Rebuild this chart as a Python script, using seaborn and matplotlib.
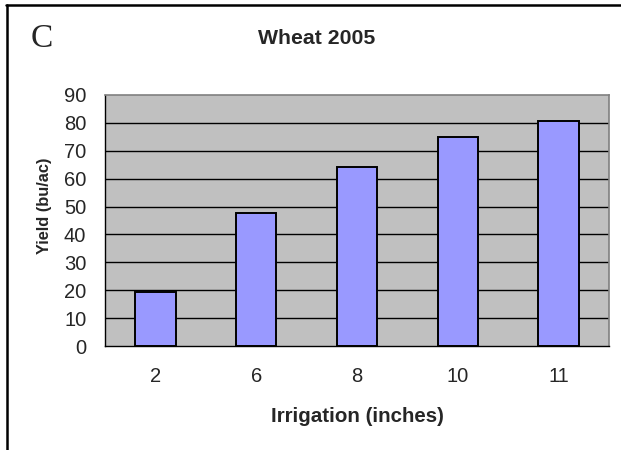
import matplotlib
matplotlib.use("Agg")
import matplotlib.pyplot as plt
from matplotlib.lines import Line2D
import seaborn as sns
import pandas as pd

# Irrigation treatment vs. wheat yield, 2005
irrigation = ["2", "6", "8", "10", "11"]
yield_bu_ac = [19.5, 47.6, 64.1, 75.0, 80.8]
y_ticks = [0, 10, 20, 30, 40, 50, 60, 70, 80, 90]

df = pd.DataFrame({"Irrigation": irrigation, "Yield": yield_bu_ac})

sns.set_style("white")
plt.rcParams["font.family"] = ["Liberation Sans", "DejaVu Sans"]

W, H = 621, 450
fig = plt.figure(figsize=(W / 100, H / 100), dpi=100)
fig.patch.set_facecolor("white")

# plot area in pixel coordinates
left, right, top, bottom = 105, 609, 95, 346
ax = fig.add_axes([left / W, 1 - bottom / H, (right - left) / W, (bottom - top) / H])
ax.set_facecolor("#C0C0C0")

for v in y_ticks[1:-1]:
    ax.axhline(v, color="black", lw=1.0, zorder=0.5)

sns.barplot(data=df, x="Irrigation", y="Yield", color="#9999FF",
            saturation=1, width=0.40, edgecolor="black", linewidth=1.4,
            ax=ax, zorder=2)

ax.set_ylim(0, 90)
ax.set_xlim(-0.5, len(irrigation) - 0.5)
ax.set_yticks(y_ticks)
ax.set_yticklabels([str(t) for t in y_ticks], fontsize=14.5)
ax.tick_params(axis="y", direction="out", length=7, width=1, color="black", pad=6.5)

# category ticks sit on the boundaries between bars
ax.set_xticks([i - 0.5 for i in range(len(irrigation) + 1)])
ax.set_xticklabels([])
ax.set_xticks(range(len(irrigation)), minor=True)
ax.set_xticklabels(irrigation, minor=True, fontsize=14.5)
ax.tick_params(axis="x", which="major", direction="out", length=6, width=1, color="black")
ax.tick_params(axis="x", which="minor", length=0, pad=15)

ax.set_xlabel("")
ax.set_ylabel("")

for side in ["left", "bottom"]:
    ax.spines[side].set_visible(True)
    ax.spines[side].set_color("black")
    ax.spines[side].set_linewidth(1.0)
for side in ["top", "right"]:
    ax.spines[side].set_visible(True)
    ax.spines[side].set_color("#808080")
    ax.spines[side].set_linewidth(1.2)

fig.text(317 / W, 1 - 38 / H, "Wheat 2005", ha="center", va="center",
         fontsize=15.3, fontweight="bold")
fig.text(357 / W, 1 - 416 / H, "Irrigation (inches)", ha="center", va="center",
         fontsize=14.8, fontweight="bold")
fig.text(45 / W, 1 - 206 / H, "Yield (bu/ac)", ha="center", va="center",
         rotation=90, fontsize=11.8, fontweight="bold")
fig.text(41.5 / W, 1 - 39 / H, "C", ha="center", va="center",
         fontsize=24, family=["Liberation Serif", "DejaVu Serif"])

# outer frame lines (top and left edges)
fig.add_artist(Line2D([6 / W, 1], [1 - 5 / H, 1 - 5 / H], color="black", lw=1.8,
                      transform=fig.transFigure))
fig.add_artist(Line2D([7 / W, 7 / W], [0, 1 - 5 / H], color="black", lw=1.8,
                      transform=fig.transFigure))

fig.savefig("out.png", dpi=100, facecolor="white")
